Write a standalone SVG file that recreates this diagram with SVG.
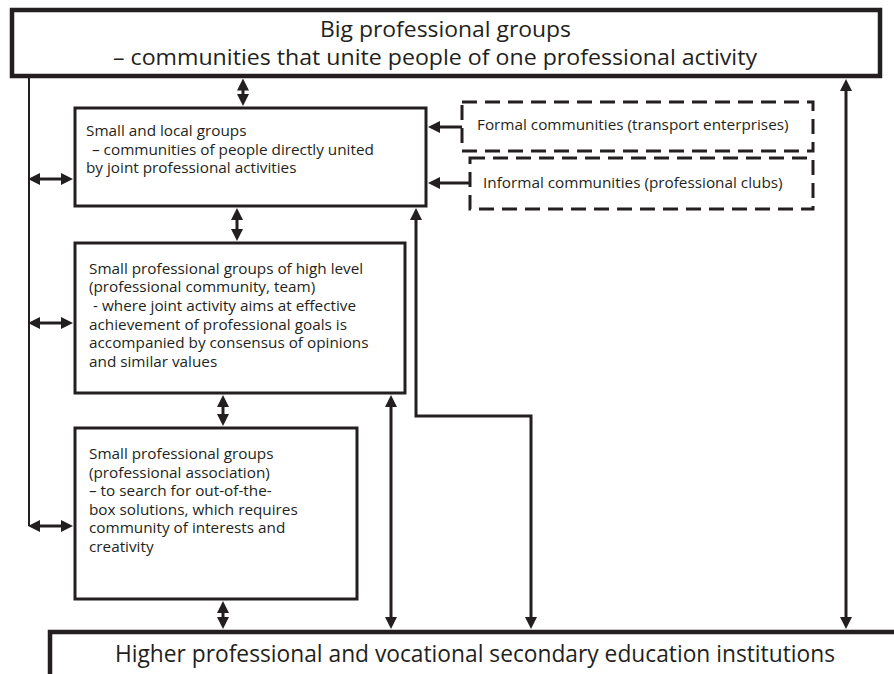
<svg xmlns="http://www.w3.org/2000/svg" width="894" height="674" viewBox="0 0 894 674">
  <style>
    .bg { fill: #ffffff; }
    .box { fill: #ffffff; stroke: #231f20; stroke-width: 3; }
    .major { fill: #ffffff; stroke: #231f20; stroke-width: 4.5; }
    .dashed { fill: #ffffff; stroke: #231f20; stroke-width: 3; stroke-dasharray: 15 8; }
    .title { font-family: "Open Sans", "Liberation Sans", sans-serif; font-size: 22px; fill: #231f20; }
    .label { font-family: "Open Sans", "Liberation Sans", sans-serif; font-size: 15.3px; fill: #231f20; }
    .conn { fill: none; stroke: #231f20; stroke-width: 3; }
    .bus { fill: none; stroke: #231f20; stroke-width: 2; }
  </style>
  <defs>
    <marker id="head" viewBox="0 0 12 12" markerWidth="12" markerHeight="12" markerUnits="userSpaceOnUse" refX="0.5" refY="6" orient="auto-start-reverse">
      <path d="M0,0 L12,6 L0,12 z" fill="#231f20"/>
    </marker>
  </defs>

  <rect class="bg" x="0" y="0" width="894" height="674"/>

  <!-- connectors -->
  <g id="connectors">
    <path class="conn" d="M243,90 V94.5" marker-start="url(#head)" marker-end="url(#head)"/>
    <path class="conn" d="M237,219.5 V229.5" marker-start="url(#head)" marker-end="url(#head)"/>
    <path class="conn" d="M223,406.5 V414.5" marker-start="url(#head)" marker-end="url(#head)"/>
    <path class="conn" d="M223,612.5 V617.5" marker-start="url(#head)" marker-end="url(#head)"/>
    <path class="conn" d="M391,406.5 V617.5" marker-start="url(#head)" marker-end="url(#head)"/>
    <path class="conn" d="M416,219.5 V416 H531 V617.5" marker-start="url(#head)" marker-end="url(#head)"/>
    <path class="conn" d="M846,90.5 V617.5" marker-start="url(#head)" marker-end="url(#head)"/>
    <path class="conn" d="M462,127 H439.5" marker-end="url(#head)"/>
    <path class="conn" d="M470,183 H439.5" marker-end="url(#head)"/>
    <path class="bus" d="M29,76 V526"/>
    <path class="conn" d="M39.5,179 H61.5" marker-start="url(#head)" marker-end="url(#head)"/>
    <path class="conn" d="M39.5,323 H61.5" marker-start="url(#head)" marker-end="url(#head)"/>
    <path class="conn" d="M39.5,526 H61.5" marker-start="url(#head)" marker-end="url(#head)"/>
  </g>

  <!-- big professional groups -->
  <g id="big-groups">
    <rect class="major" x="12" y="10" width="868" height="66"/>
    <text class="title" x="320" y="37" textLength="251" lengthAdjust="spacingAndGlyphs">Big professional groups</text>
    <text class="title" x="113" y="65" textLength="644" lengthAdjust="spacingAndGlyphs">– communities that unite people of one professional activity</text>
  </g>

  <!-- small and local groups -->
  <g id="local-groups">
    <rect class="box" x="75" y="108" width="351" height="98"/>
    <text class="label" x="86" y="136">Small and local groups</text>
    <text class="label" x="92" y="154.5">– communities of people directly united</text>
    <text class="label" x="86" y="173">by joint professional activities</text>
  </g>

  <!-- formal communities -->
  <g id="formal">
    <rect class="dashed" x="462" y="102" width="351" height="49"/>
    <text class="label" x="477" y="130">Formal communities (transport enterprises)</text>
  </g>

  <!-- informal communities -->
  <g id="informal">
    <rect class="dashed" x="470" y="158" width="343" height="51"/>
    <text class="label" x="483" y="188">Informal communities (professional clubs)</text>
  </g>

  <!-- high level groups -->
  <g id="high-level">
    <rect class="box" x="75" y="243" width="330" height="150"/>
    <text class="label" x="89" y="273.5">Small professional groups of high level</text>
    <text class="label" x="89" y="292.2">(professional community, team)</text>
    <text class="label" x="93" y="310.9">- where joint activity aims at effective</text>
    <text class="label" x="89" y="329.6">achievement of professional goals is</text>
    <text class="label" x="89" y="348.3">accompanied by consensus of opinions</text>
    <text class="label" x="89" y="367">and similar values</text>
  </g>

  <!-- professional association -->
  <g id="association">
    <rect class="box" x="75" y="428" width="282" height="171"/>
    <text class="label" x="89" y="459">Small professional groups</text>
    <text class="label" x="89" y="477.5">(professional association)</text>
    <text class="label" x="89" y="496">– to search for out-of-the-</text>
    <text class="label" x="89" y="514.5">box solutions, which requires</text>
    <text class="label" x="89" y="533">community of interests and</text>
    <text class="label" x="89" y="551.5">creativity</text>
  </g>

  <!-- education institutions -->
  <g id="institutions">
    <rect class="major" x="50" y="632" width="900" height="100"/>
    <text class="title" x="115" y="662" textLength="720" lengthAdjust="spacingAndGlyphs" style="font-size:23px">Higher professional and vocational secondary education institutions</text>
  </g>
</svg>
